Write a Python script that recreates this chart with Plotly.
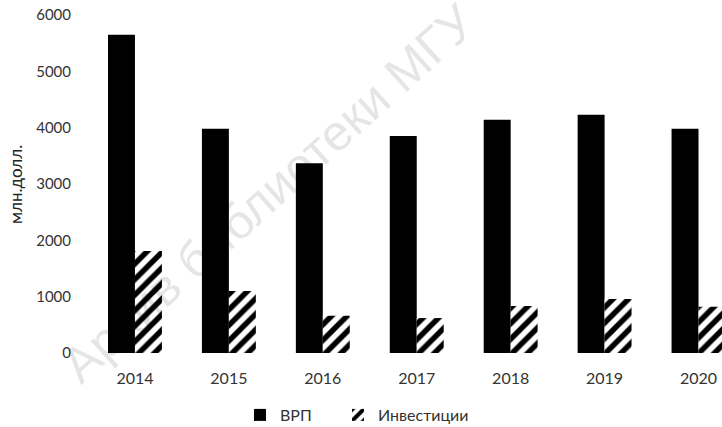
import plotly.graph_objects as go

years = ["2014", "2015", "2016", "2017", "2018", "2019", "2020"]
vrp = [5650, 3980, 3370, 3850, 4140, 4230, 3980]
invest = [1810, 1100, 660, 620, 835, 960, 820]
y_ticks = [0, 1000, 2000, 3000, 4000, 5000, 6000]

FONT = "Lato"
TXT = "#333333"
W, H = 722, 427

# plot area in pixels (for converting annotation positions)
L, R, T, B = 88, 722, 15, 353


def px_x(p):
    return (p - L) / (R - L)


def px_y(p):
    return (B - p) / (B - T)


fig = go.Figure()
fig.add_trace(go.Bar(
    x=years, y=vrp, name="ВРП", legend="legend",
    marker=dict(color="#000000", line=dict(width=0)),
))
fig.add_trace(go.Bar(
    x=years, y=invest, name="Инвестиции", legend="legend2",
    marker=dict(color="#ffffff", line=dict(width=0),
                pattern=dict(shape="/", fgcolor="#000000", bgcolor="#ffffff",
                             fgopacity=1, size=11, solidity=0.5,
                             fillmode="replace")),
))

leg_common = dict(orientation="h", xref="container", yref="container",
                  xanchor="left", y=1 - 415 / H, yanchor="middle",
                  font=dict(size=16, color=TXT), itemwidth=30,
                  bgcolor="rgba(0,0,0,0)")

fig.update_layout(
    width=W, height=H,
    paper_bgcolor="white", plot_bgcolor="white",
    margin=dict(l=L, r=W - R, t=T, b=H - B),
    barmode="group", bargap=0.426, bargroupgap=0,
    font=dict(family=FONT, color=TXT, size=15),
    showlegend=True,
    legend=dict(leg_common, x=240 / W),
    legend2=dict(leg_common, x=338 / W),
    xaxis=dict(type="category", range=[-0.5, 6.25], showline=False,
               showgrid=False, zeroline=False, ticks="",
               tickfont=dict(size=16, color=TXT), ticklabelstandoff=14),
    yaxis=dict(range=[0, 6000], tickvals=y_ticks, showgrid=False,
               showline=False, zeroline=False, ticks="",
               tickfont=dict(size=15, color=TXT), ticklabelstandoff=16),
    annotations=[
        dict(text="млн.долл.", textangle=-90, xref="paper", yref="paper",
             x=px_x(15), y=px_y(185), showarrow=False,
             font=dict(size=17, color="#222222"), xanchor="center", yanchor="middle"),
        dict(text="Архив библиотеки МГУ", textangle=-42, xref="paper", yref="paper",
             x=px_x(268), y=px_y(194), showarrow=False,
             font=dict(size=50, color="rgba(0,0,0,0.10)", family="Liberation Sans"),
             xanchor="center", yanchor="middle"),
    ],
)

fig.write_html("out.html", config={"displayModeBar": False},
               post_script="document.body.style.margin='0';")
